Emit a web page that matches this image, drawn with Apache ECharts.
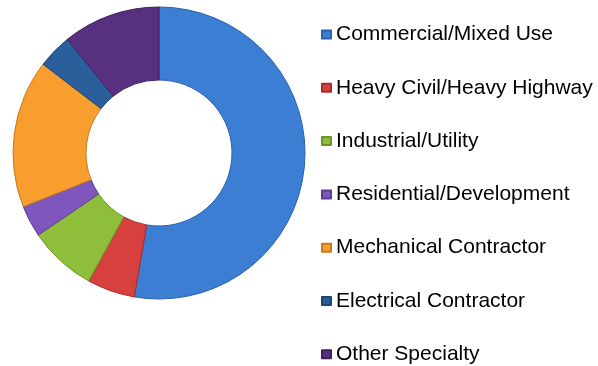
<!DOCTYPE html>
<html>
<head>
<meta charset="utf-8">
<script src="https://cdn.jsdelivr.net/npm/echarts@6/dist/echarts.min.js"></script>
<style>
  html, body { margin: 0; padding: 0; background: #ffffff; }
  #chart { width: 598px; height: 366px; }
</style>
</head>
<body>
<div id="chart"></div>
<script>
// Share of work by market segment (percent)
const categories = [
  'Commercial/Mixed Use',
  'Heavy Civil/Heavy Highway',
  'Industrial/Utility',
  'Residential/Development',
  'Mechanical Contractor',
  'Electrical Contractor',
  'Other Specialty'
];
const shares = [52.7, 5.3, 7.5, 3.5, 16.4, 3.8, 10.8];
const colors = ['#3B7ED3', '#D6403E', '#8FBE3A', '#7F56BE', '#F79E2E', '#2A5F9C', '#57307F'];
const borders = ['#2A62A8', '#A62C2A', '#6C9428', '#5E3E92', '#C67A1E', '#1C4474', '#3E2060'];

const chart = echarts.init(document.getElementById('chart'), null, { renderer: 'canvas' });

const data = categories.map((name, i) => ({
  name: name,
  value: shares[i],
  itemStyle: {
    color: colors[i],
    borderColor: borders[i],
    borderWidth: 1
  }
}));

chart.setOption({
  animation: false,
  backgroundColor: '#ffffff',
  legend: {
    orient: 'vertical',
    left: 321,
    top: 22.5,
    height: 400,
    padding: 0,
    itemWidth: 9,
    itemHeight: 8,
    itemGap: 29.3,
    icon: 'rect',
    data: categories,
    textStyle: {
      fontFamily: 'Liberation Sans, Arial, sans-serif',
      fontSize: 21,
      lineHeight: 24,
      color: '#000000'
    }
  },
  series: [{
    type: 'pie',
    center: [159, 153],
    radius: [73, 146],
    startAngle: 90,
    clockwise: true,
    label: { show: false },
    labelLine: { show: false },
    emphasis: { disabled: true },
    data: data
  }]
});
</script>
</body>
</html>
